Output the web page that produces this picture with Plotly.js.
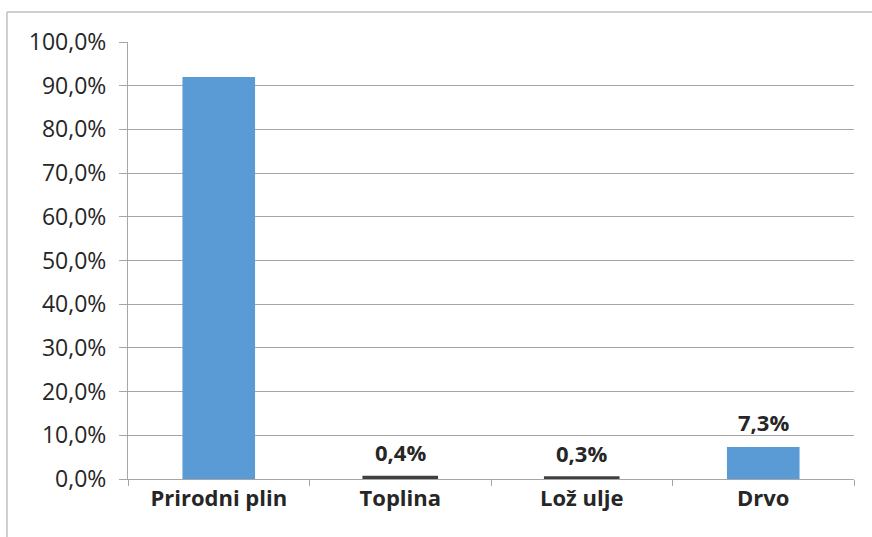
<!DOCTYPE html>
<html>
<head>
<meta charset="utf-8">
<script src="https://cdn.plot.ly/plotly-3.0.1.min.js"></script>
<style>html,body{margin:0;padding:0;background:#fff;}#chart{width:872px;height:537px;}</style>
</head>
<body>
<div id="chart"></div>
<script>
const categories = ["Prirodni plin", "Toplina", "Lož ulje", "Drvo"];
const shares = [0.920, 0.004, 0.003, 0.073];
const showLabel = [false, true, true, true];
const outlined = [false, true, true, false];

const fmt = v => (v * 100).toFixed(1).replace('.', ',') + '%';

const trace = {
  type: 'bar',
  x: categories,
  y: shares,
  marker: {
    color: '#5b9bd5',
    line: {
      color: outlined.map(o => o ? '#404040' : 'rgba(0,0,0,0)'),
      width: outlined.map(o => o ? 3 : 0)
    }
  },
  hoverinfo: 'none'
};

const annotations = categories.map((c, i) => showLabel[i] ? {
  x: c, y: shares[i], xref: 'x', yref: 'y',
  text: fmt(shares[i]), showarrow: false,
  yanchor: 'bottom', yshift: 8,
  font: {family: 'Open Sans', size: 22, color: '#262626', weight: 'bold'}
} : null).filter(a => a);

const layout = {
  width: 872, height: 537,
  margin: {l: 128, r: 18, t: 42, b: 58},
  paper_bgcolor: '#ffffff', plot_bgcolor: '#ffffff',
  separators: ',.',
  showlegend: false,
  bargap: 0.6,
  font: {family: 'Open Sans', color: '#262626'},
  xaxis: {
    type: 'category',
    showgrid: false,
    showline: true, linecolor: '#a6a6a6', linewidth: 1,
    ticks: 'outside', tickson: 'boundaries', ticklen: 6, tickcolor: '#a6a6a6',
    tickfont: {family: 'Open Sans', size: 22, color: '#262626', weight: 'bold'},
    fixedrange: true
  },
  yaxis: {
    range: [0, 1], dtick: 0.1, tick0: 0,
    tickformat: '.1%',
    showgrid: true, gridcolor: '#a6a6a6', gridwidth: 1,
    showline: true, linecolor: '#a6a6a6', linewidth: 1,
    ticks: 'outside', ticklen: 8, tickcolor: '#a6a6a6',
    ticklabelstandoff: 8,
    tickfont: {family: 'Open Sans', size: 23, color: '#262626'},
    zeroline: false,
    fixedrange: true
  },
  annotations: annotations,
  shapes: [
    {type: 'line', xref: 'paper', yref: 'paper', x0: -0.1667, x1: 1.03, y0: 1.0686, y1: 1.0686, line: {color: '#bfbfbf', width: 1.5}},
    {type: 'line', xref: 'paper', yref: 'paper', x0: -0.1667, x1: -0.1667, y0: 1.0686, y1: -0.15, line: {color: '#bfbfbf', width: 1.5}}
  ]
};

Plotly.newPlot('chart', [trace], layout, {displayModeBar: false, staticPlot: true});
</script>
</body>
</html>
